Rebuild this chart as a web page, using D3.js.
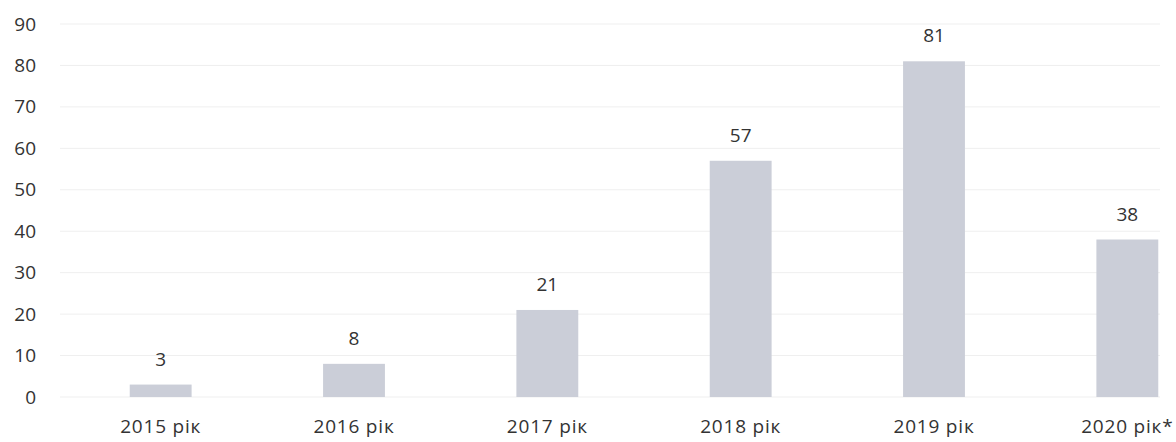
<!DOCTYPE html>
<html>
<head>
<meta charset="utf-8">
<script src="https://cdn.jsdelivr.net/npm/d3@7"></script>
<style>
  body { margin: 0; background: #fff; }
  svg { display: block; }
  .tick text { font-family: "Open Sans", sans-serif; }
</style>
</head>
<body>
<div id="chart"></div>
<script>
// chart data
var years = ["2015 рік", "2016 рік", "2017 рік", "2018 рік", "2019 рік", "2020 рік*"];
var counts = [3, 8, 21, 57, 81, 38];
var yTicks = [0, 10, 20, 30, 40, 50, 60, 70, 80, 90];

var width = 1176, height = 442;

var svg = d3.select("#chart").append("svg")
  .attr("width", width)
  .attr("height", height);

// scales
var x = d3.scaleBand()
  .domain(years)
  .range([64, 1224])
  .paddingInner(0.68)
  .paddingOuter(0.34);

var y = d3.scaleLinear()
  .domain([0, 90])
  .range([397, 24]);

// gridlines
svg.append("g")
  .selectAll("line")
  .data(yTicks)
  .enter().append("line")
  .attr("x1", 60)
  .attr("x2", 1160)
  .attr("y1", function(d) { return y(d); })
  .attr("y2", function(d) { return y(d); })
  .attr("stroke", "#efefef")
  .attr("stroke-width", 1);

// y axis
var yAxis = svg.append("g")
  .attr("transform", "translate(36,0)")
  .call(d3.axisLeft(y).tickValues(yTicks).tickSize(0).tickPadding(0));
yAxis.select(".domain").remove();
yAxis.selectAll("text")
  .attr("font-size", 19)
  .attr("fill", "#333");

// x axis
var xAxis = svg.append("g")
  .attr("transform", "translate(0,419)")
  .call(d3.axisBottom(x).tickSize(0).tickPadding(0));
xAxis.select(".domain").remove();
xAxis.selectAll("text")
  .attr("font-size", 19)
  .attr("letter-spacing", 0.8)
  .attr("fill", "#333");

// bars
svg.append("g")
  .selectAll("rect")
  .data(counts)
  .enter().append("rect")
  .attr("x", function(d, i) { return x(years[i]); })
  .attr("width", x.bandwidth())
  .attr("y", function(d) { return y(d); })
  .attr("height", function(d) { return y(0) - y(d); })
  .attr("fill", "#cbced8");

// value labels
svg.append("g")
  .selectAll("text")
  .data(counts)
  .enter().append("text")
  .attr("x", function(d, i) { return x(years[i]) + x.bandwidth() / 2; })
  .attr("y", function(d) { return y(d) - 19; })
  .attr("text-anchor", "middle")
  .attr("font-family", "Open Sans, sans-serif")
  .attr("font-size", 19)
  .attr("fill", "#333")
  .text(function(d) { return d; });
</script>
</body>
</html>
